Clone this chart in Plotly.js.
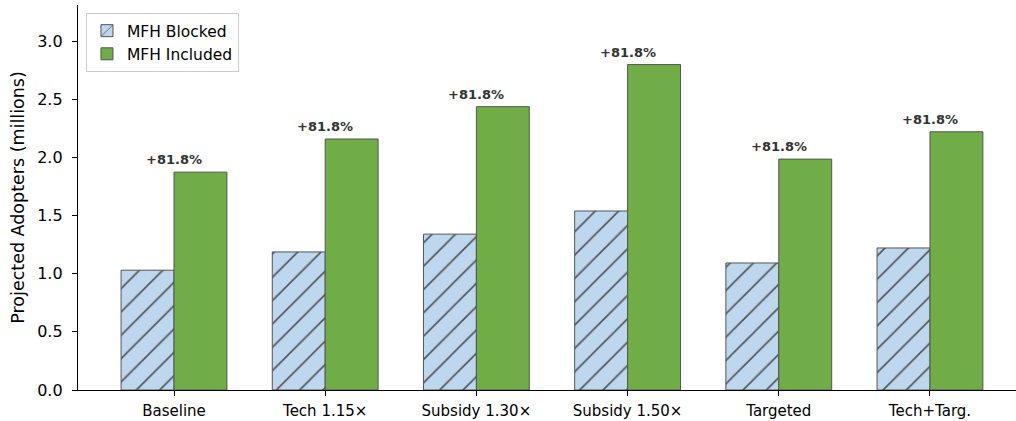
<!DOCTYPE html>
<html>
<head>
<meta charset="utf-8">
<script src="https://cdn.plot.ly/plotly-3.0.1.min.js"></script>
<style>
  html, body { margin: 0; padding: 0; background: #fff; }
  #chart { width: 1016px; height: 421px; }
</style>
</head>
<body>
<div id="chart"></div>
<script>
// Projected adopters by policy scenario (millions)
const scenarios = ['Baseline', 'Tech 1.15×', 'Subsidy 1.30×', 'Subsidy 1.50×', 'Targeted', 'Tech+Targ.'];
const mfhBlocked = [1.03, 1.187, 1.34, 1.539, 1.092, 1.221];
const mfhIncluded = [1.873, 2.158, 2.436, 2.798, 1.985, 2.22];
const upliftLabels = ['+81.8%', '+81.8%', '+81.8%', '+81.8%', '+81.8%', '+81.8%'];
const yTicks = [0, 0.5, 1.0, 1.5, 2.0, 2.5, 3.0];

const FONT = 'DejaVu Sans, sans-serif';
const EDGE = '#555555';
const BAR_W = 0.35;

const traces = [
  {
    type: 'bar',
    name: 'MFH Blocked',
    x: scenarios,
    y: mfhBlocked,
    width: BAR_W,
    offset: -BAR_W,
    marker: {
      color: '#bdd7ee',
      line: { color: EDGE, width: 1 },
      pattern: { shape: '/', size: 16.5, solidity: 0.1, fgcolor: '#555555', fgopacity: 1, bgcolor: '#bdd7ee', fillmode: 'replace' }
    },
    hoverinfo: 'x+y'
  },
  {
    type: 'bar',
    name: 'MFH Included',
    x: scenarios,
    y: mfhIncluded,
    width: BAR_W,
    offset: 0,
    marker: {
      color: '#70ad47',
      line: { color: EDGE, width: 1 }
    },
    hoverinfo: 'x+y'
  }
];

const annotations = scenarios.map((s, i) => ({
  x: s,
  y: mfhIncluded[i],
  xref: 'x',
  yref: 'y',
  text: '<b>' + upliftLabels[i] + '</b>',
  showarrow: false,
  xanchor: 'center',
  yanchor: 'bottom',
  yshift: 3,
  font: { family: FONT, size: 13, color: '#333333' }
}));

const layout = {
  width: 1016,
  height: 421,
  margin: { l: 78, r: 0, t: 5, b: 31 },
  paper_bgcolor: '#ffffff',
  plot_bgcolor: '#ffffff',
  barmode: 'overlay',
  showlegend: true,
  font: { family: FONT, color: '#000000' },
  xaxis: {
    type: 'category',
    range: [-0.635, 5.569],
    showline: true,
    linecolor: '#000000',
    linewidth: 1.2,
    ticks: 'outside',
    ticklen: 5,
    tickwidth: 1,
    tickcolor: '#000000',
    ticklabelstandoff: 2,
    showgrid: false,
    zeroline: false,
    tickfont: { family: FONT, size: 15, color: '#000000' }
  },
  yaxis: {
    range: [0, 3.31],
    tickvals: yTicks,
    ticktext: yTicks.map(v => v.toFixed(1)),
    showline: true,
    linecolor: '#000000',
    linewidth: 1.2,
    ticks: 'outside',
    ticklen: 5,
    tickwidth: 1,
    tickcolor: '#000000',
    ticklabelstandoff: 6,
    showgrid: false,
    zeroline: false,
    tickfont: { family: FONT, size: 16, color: '#000000' },
    title: { text: 'Projected Adopters (millions)', font: { family: FONT, size: 17.5, color: '#000000' }, standoff: 8 }
  },
  legend: {
    x: 0.0085,
    y: 0.979,
    xanchor: 'left',
    yanchor: 'top',
    bgcolor: 'rgba(255,255,255,0.8)',
    bordercolor: '#cccccc',
    borderwidth: 1,
    font: { family: FONT, size: 15.5, color: '#000000' },
    tracegroupgap: 2
  },
  annotations: annotations
};

Plotly.newPlot('chart', traces, layout, { displayModeBar: false, staticPlot: true });
</script>
</body>
</html>
